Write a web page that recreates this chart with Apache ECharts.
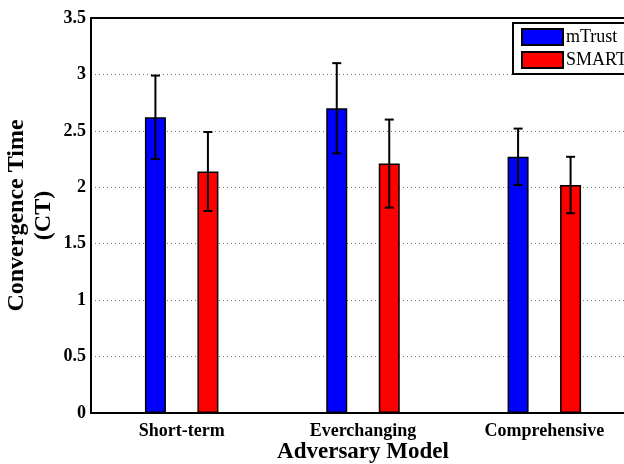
<!DOCTYPE html>
<html>
<head>
<meta charset="utf-8">
<script src="https://cdn.jsdelivr.net/npm/echarts@6/dist/echarts.min.js"></script>
<style>
  html, body { margin: 0; padding: 0; background: #fff; }
  #chart { width: 624px; height: 464px; }
</style>
</head>
<body>
<div id="chart"></div>
<script>
// Convergence time per adversary model, mean and error half-width
const categories = ['Short-term', 'Everchanging', 'Comprehensive'];
const seriesNames = ['mTrust', 'SMART'];
const mTrustMean = [2.62, 2.70, 2.27];
const mTrustErr = [0.37, 0.40, 0.25];
const smartMean = [2.14, 2.21, 2.02];
const smartErr = [0.35, 0.39, 0.25];
const yTicks = [0, 0.5, 1, 1.5, 2, 2.5, 3, 3.5];

const SERIF = '"Liberation Serif", "Times New Roman", serif';
const BAR_W = 21;
const BAR_GAP = 1.5; // gap between the two bars, as a fraction of bar width

const chart = echarts.init(document.getElementById('chart'), null, { renderer: 'canvas' });

// Error bars centred on each bar: offset from the category centre
function errorSeries(name, means, errs, sign) {
  const data = means.map((m, i) => [i, m - errs[i], m + errs[i]]);
  return {
    type: 'custom',
    name: name + '-err',
    z: 5,
    silent: true,
    data: data,
    encode: { x: 0, y: [1, 2] },
    renderItem: function (params, api) {
      const idx = api.value(0);
      const lo = api.coord([idx, api.value(1)]);
      const hi = api.coord([idx, api.value(2)]);
      const off = sign * (BAR_W + BAR_W * BAR_GAP) / 2;
      const x = lo[0] + off;
      const cap = 4.5;
      const style = { stroke: '#000', lineWidth: 2, fill: null };
      return {
        type: 'group',
        children: [
          { type: 'line', shape: { x1: x, y1: lo[1], x2: x, y2: hi[1] }, style: style },
          { type: 'line', shape: { x1: x - cap, y1: lo[1], x2: x + cap, y2: lo[1] }, style: style },
          { type: 'line', shape: { x1: x - cap, y1: hi[1], x2: x + cap, y2: hi[1] }, style: style }
        ]
      };
    }
  };
}

const option = {
  backgroundColor: '#fff',
  animation: false,
  grid: { left: 91, top: 18, width: 544, height: 395, containLabel: false, outerBoundsMode: 'none' },
  legend: {
    data: seriesNames,
    orient: 'vertical',
    left: 513,
    top: 23,
    padding: [5, 40, 5, 8],
    itemGap: 5,
    itemWidth: 41,
    itemHeight: 16,
    icon: 'rect',
    borderColor: '#000',
    borderWidth: 2,
    backgroundColor: '#fff',
    textStyle: { fontFamily: SERIF, fontSize: 18, color: '#000', padding: [0, 0, 0, -2] }
  },
  xAxis: [{
    type: 'category',
    data: categories,
    name: 'Adversary Model',
    nameLocation: 'middle',
    nameGap: 28,
    nameMoveOverlap: false,
    nameTextStyle: { fontFamily: SERIF, fontSize: 23, fontWeight: 'bold', color: '#000' },
    axisLine: { lineStyle: { color: '#000', width: 2 } },
    axisTick: { show: false },
    axisLabel: { fontFamily: SERIF, fontSize: 18, fontWeight: 'bold', color: '#000', margin: 9 },
    splitLine: { show: false }
  }, {
    type: 'category',
    data: categories,
    position: 'top',
    axisLine: { lineStyle: { color: '#000', width: 2 } },
    axisTick: { show: false },
    axisLabel: { show: false },
    splitLine: { show: false }
  }],
  yAxis: {
    type: 'value',
    min: yTicks[0],
    max: yTicks[yTicks.length - 1],
    interval: 0.5,
    name: 'Convergence Time\n(CT)',
    nameLocation: 'middle',
    nameGap: 34,
    nameMoveOverlap: false,
    nameTextStyle: { fontFamily: SERIF, fontSize: 24, fontWeight: 'bold', color: '#000', lineHeight: 27, align: 'center' },
    axisLine: { show: true, lineStyle: { color: '#000', width: 2 } },
    axisTick: { show: false },
    axisLabel: { fontFamily: SERIF, fontSize: 18, fontWeight: 'bold', color: '#000', margin: 5 },
    splitLine: { show: true, lineStyle: { color: '#777', width: 1, type: [1, 3] } }
  },
  series: [
    {
      name: seriesNames[0],
      type: 'bar',
      data: mTrustMean,
      barWidth: BAR_W,
      barGap: (BAR_GAP * 100) + '%',
      itemStyle: { color: '#0000ff', borderColor: '#000', borderWidth: 1.5 }
    },
    {
      name: seriesNames[1],
      type: 'bar',
      data: smartMean,
      barWidth: BAR_W,
      barGap: (BAR_GAP * 100) + '%',
      itemStyle: { color: '#ff0000', borderColor: '#000', borderWidth: 1.5 }
    },
    errorSeries(seriesNames[0], mTrustMean, mTrustErr, -1),
    errorSeries(seriesNames[1], smartMean, smartErr, 1)
  ]
};

chart.setOption(option);
</script>
</body>
</html>
